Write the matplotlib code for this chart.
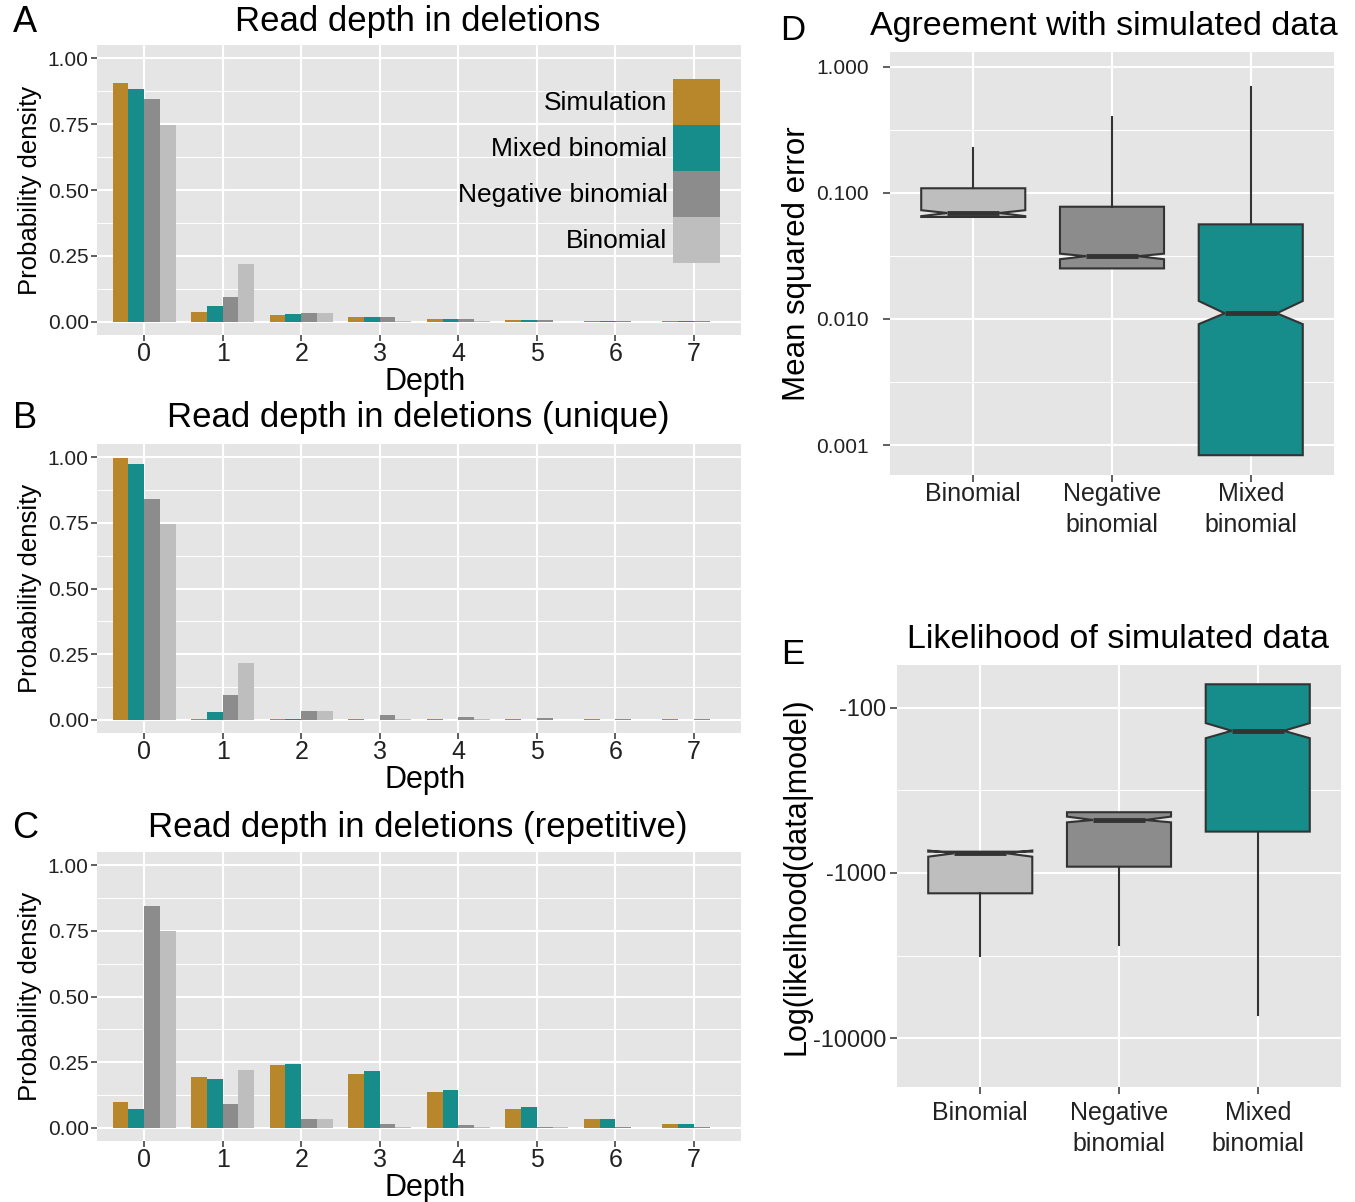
import numpy as np
import matplotlib
matplotlib.use('Agg')
import matplotlib.pyplot as plt
from matplotlib.ticker import FixedLocator, FuncFormatter

plt.rcParams['font.family'] = ['Liberation Sans', 'DejaVu Sans']

# bar panels: probability density per read depth
depth = np.arange(8)
models = ['Simulation', 'Mixed binomial', 'Negative binomial', 'Binomial']
colors = ['#B8862B', '#168D8B', '#8C8C8C', '#BEBEBE']

all_sim = [0.905, 0.037, 0.025, 0.018, 0.010, 0.006, 0.0025, 0.002]
all_mix = [0.882, 0.060, 0.029, 0.018, 0.010, 0.006, 0.0025, 0.002]
all_neg = [0.844, 0.094, 0.033, 0.018, 0.010, 0.006, 0.0025, 0.002]
all_bin = [0.748, 0.218, 0.033, 0.003, 0.002, 0.001, 0.0003, 0.0001]

uniq_sim = [0.996, 0.003, 0.003, 0.002, 0.002, 0.002, 0.002, 0.002]
uniq_mix = [0.973, 0.029, 0.003, 0.001, 0.001, 0.001, 0.001, 0.001]
uniq_neg = [0.840, 0.093, 0.033, 0.018, 0.010, 0.006, 0.003, 0.002]
uniq_bin = [0.745, 0.218, 0.033, 0.003, 0.002, 0.001, 0.0005, 0.0003]

rep_sim = [0.100, 0.195, 0.240, 0.206, 0.138, 0.073, 0.032, 0.013]
rep_mix = [0.070, 0.187, 0.244, 0.217, 0.145, 0.081, 0.035, 0.013]
rep_neg = [0.843, 0.092, 0.035, 0.016, 0.009, 0.005, 0.002, 0.002]
rep_bin = [0.748, 0.221, 0.032, 0.005, 0.002, 0.002, 0.001, 0.0005]

# boxplot panels
box_labels = ['Binomial', 'Negative\nbinomial', 'Mixed\nbinomial']
box_colors = ['#BEBEBE', '#8C8C8C', '#168D8B']

# D: mean squared error
mse_lo = [0.0645, 0.0252, 0.00083]
mse_q1 = [0.0645, 0.0252, 0.00083]
mse_med = [0.0694, 0.0315, 0.0111]
mse_q3 = [0.109, 0.0778, 0.0564]
mse_hi = [0.229, 0.403, 0.694]
mse_cilo = [0.0655, 0.0298, 0.0091]
mse_cihi = [0.0730, 0.0330, 0.0139]

# E: log likelihood (negative values)
ll_lo = [-3177, -2728, -7228]
ll_q1 = [-1327, -916, -562]
ll_med = [-760, -478, -138]
ll_q3 = [-743, -429, -72.2]
ll_hi = [-743, -429, -72.2]
ll_cilo = [-797, -494, -153]
ll_cihi = [-731, -456, -124]

W, H = 1355, 1202
fig = plt.figure(figsize=(W / 100, H / 100), dpi=100)


def px_axes(l, t, r, b):
    return fig.add_axes([l / W, 1 - b / H, (r - l) / W, (b - t) / H])


def gg_style(ax):
    ax.set_facecolor('#E5E5E5')
    for s in ax.spines.values():
        s.set_visible(False)
    ax.grid(which='major', color='white', lw=1.5)
    ax.grid(which='minor', color='white', lw=0.7)
    ax.set_axisbelow(True)
    ax.tick_params(which='major', direction='out', length=4, width=1.1,
                   color='#333333', labelcolor='#222222', labelsize=15, pad=2)
    ax.tick_params(which='minor', length=0)


def bar_panel(ax, series, title, letter, title_y, legend=False):
    gg_style(ax)
    for i, vals in enumerate(series):
        ax.bar(depth + (i - 1.5) * 0.2, vals, width=0.2, color=colors[i],
               label=models[i])
    ax.set_xlim(-0.6, 7.6)
    ax.set_ylim(-0.05, 1.05)
    ax.set_xticks(depth)
    ax.set_yticks([0, 0.25, 0.5, 0.75, 1.0])
    ax.set_yticklabels(['0.00', '0.25', '0.50', '0.75', '1.00'])
    ax.yaxis.set_minor_locator(FixedLocator([0.125, 0.375, 0.625, 0.875]))
    ax.grid(axis='x', which='minor', visible=False)
    ax.tick_params(axis='x', labelsize=18, pad=1)
    ax.set_xlabel('Depth', fontsize=22, va='center')
    ax.xaxis.set_label_coords(0.509, -0.162)
    ax.set_ylabel('Probability density', fontsize=18.5, labelpad=4)
    fig.text(418 / W, 1 - title_y / H, title, fontsize=25, ha='center', va='center')
    fig.text(25 / W, 1 - (title_y + 1) / H, letter, fontsize=26, ha='center', va='center')
    if legend:
        ax.legend(loc='upper right', bbox_to_anchor=(0.967, 0.883), frameon=False,
                  markerfirst=False, fontsize=19, handlelength=1.78, handleheight=2.30,
                  labelspacing=0, handletextpad=0.2, borderpad=0, borderaxespad=0)


axA = px_axes(97, 45, 741, 335)
bar_panel(axA, [all_sim, all_mix, all_neg, all_bin], 'Read depth in deletions', 'A', 22, legend=True)
axB = px_axes(97, 444, 741, 733)
bar_panel(axB, [uniq_sim, uniq_mix, uniq_neg, uniq_bin], 'Read depth in deletions (unique)', 'B', 418)
axC = px_axes(97, 852, 741, 1141)
bar_panel(axC, [rep_sim, rep_mix, rep_neg, rep_bin], 'Read depth in deletions (repetitive)', 'C', 827)


def box_panel(ax, stats):
    gg_style(ax)
    bp = ax.bxp(stats, positions=[1, 2, 3], widths=0.75, shownotches=True, patch_artist=True,
                showfliers=False, showcaps=False,
                boxprops=dict(edgecolor='#333333', linewidth=1.5),
                whiskerprops=dict(color='#333333', linewidth=1.5),
                medianprops=dict(color='#333333', linewidth=3.5, solid_capstyle='butt'))
    for patch, c in zip(bp['boxes'], box_colors):
        patch.set_facecolor(c)
    ax.set_yscale('log')
    ax.set_xlim(0.4, 3.6)
    ax.set_xticks([1, 2, 3])
    ax.set_xticklabels(box_labels, fontsize=18, linespacing=1.38)
    ax.grid(axis='x', which='minor', visible=False)
    ax.tick_params(which='major', length=5)


# D
axD = px_axes(890, 52, 1334, 475)
stats_d = []
for i in range(3):
    stats_d.append(dict(whislo=mse_lo[i], q1=mse_q1[i], med=mse_med[i], q3=mse_q3[i],
                        whishi=mse_hi[i], cilo=mse_cilo[i], cihi=mse_cihi[i], fliers=[]))
box_panel(axD, stats_d)
axD.set_ylim(0.000578, 1.315)
axD.set_yticks([0.001, 0.01, 0.1, 1.0])
axD.set_yticklabels(['0.001', '0.010', '0.100', '1.000'])
axD.yaxis.set_minor_locator(FixedLocator([10 ** -3.5, 10 ** -2.5, 10 ** -1.5, 10 ** -0.5]))
axD.tick_params(axis='y', pad=10)
axD.tick_params(axis='x', pad=0)
axD.set_ylabel('Mean squared error', fontsize=22.5, va='center')
axD.yaxis.set_label_coords((797 - 890) / 444, 0.5)
fig.text(1104 / W, 1 - 27 / H, 'Agreement with simulated data', fontsize=24.5, ha='center', va='center')
fig.text(793 / W, 1 - 30 / H, 'D', fontsize=25, ha='center', va='center')

# E: plotted as magnitude on a reversed log axis
axE = px_axes(897, 665, 1341, 1087)
stats_e = []
for i in range(3):
    stats_e.append(dict(whislo=-ll_hi[i], q1=-ll_q3[i], med=-ll_med[i], q3=-ll_q1[i],
                        whishi=-ll_lo[i], cilo=-ll_cihi[i], cihi=-ll_cilo[i], fliers=[]))
box_panel(axE, stats_e)
axE.set_ylim(19700, 55.2)
axE.set_yticks([100, 1000, 10000])
axE.yaxis.set_major_formatter(FuncFormatter(lambda v, p: '-%d' % round(v)))
axE.yaxis.set_minor_locator(FixedLocator([10 ** 2.5, 10 ** 3.5]))
axE.tick_params(axis='y', labelsize=17, pad=3)
axE.tick_params(axis='x', pad=5)
axE.set_ylabel('Log(likelihood(data|model)', fontsize=22, va='center')
axE.yaxis.set_label_coords((797 - 897) / 444, 0.5)
fig.text(1118 / W, 1 - 640 / H, 'Likelihood of simulated data', fontsize=24.5, ha='center', va='center')
fig.text(793 / W, 1 - 655 / H, 'E', fontsize=25, ha='center', va='center')

fig.savefig('out.png', dpi=100)
